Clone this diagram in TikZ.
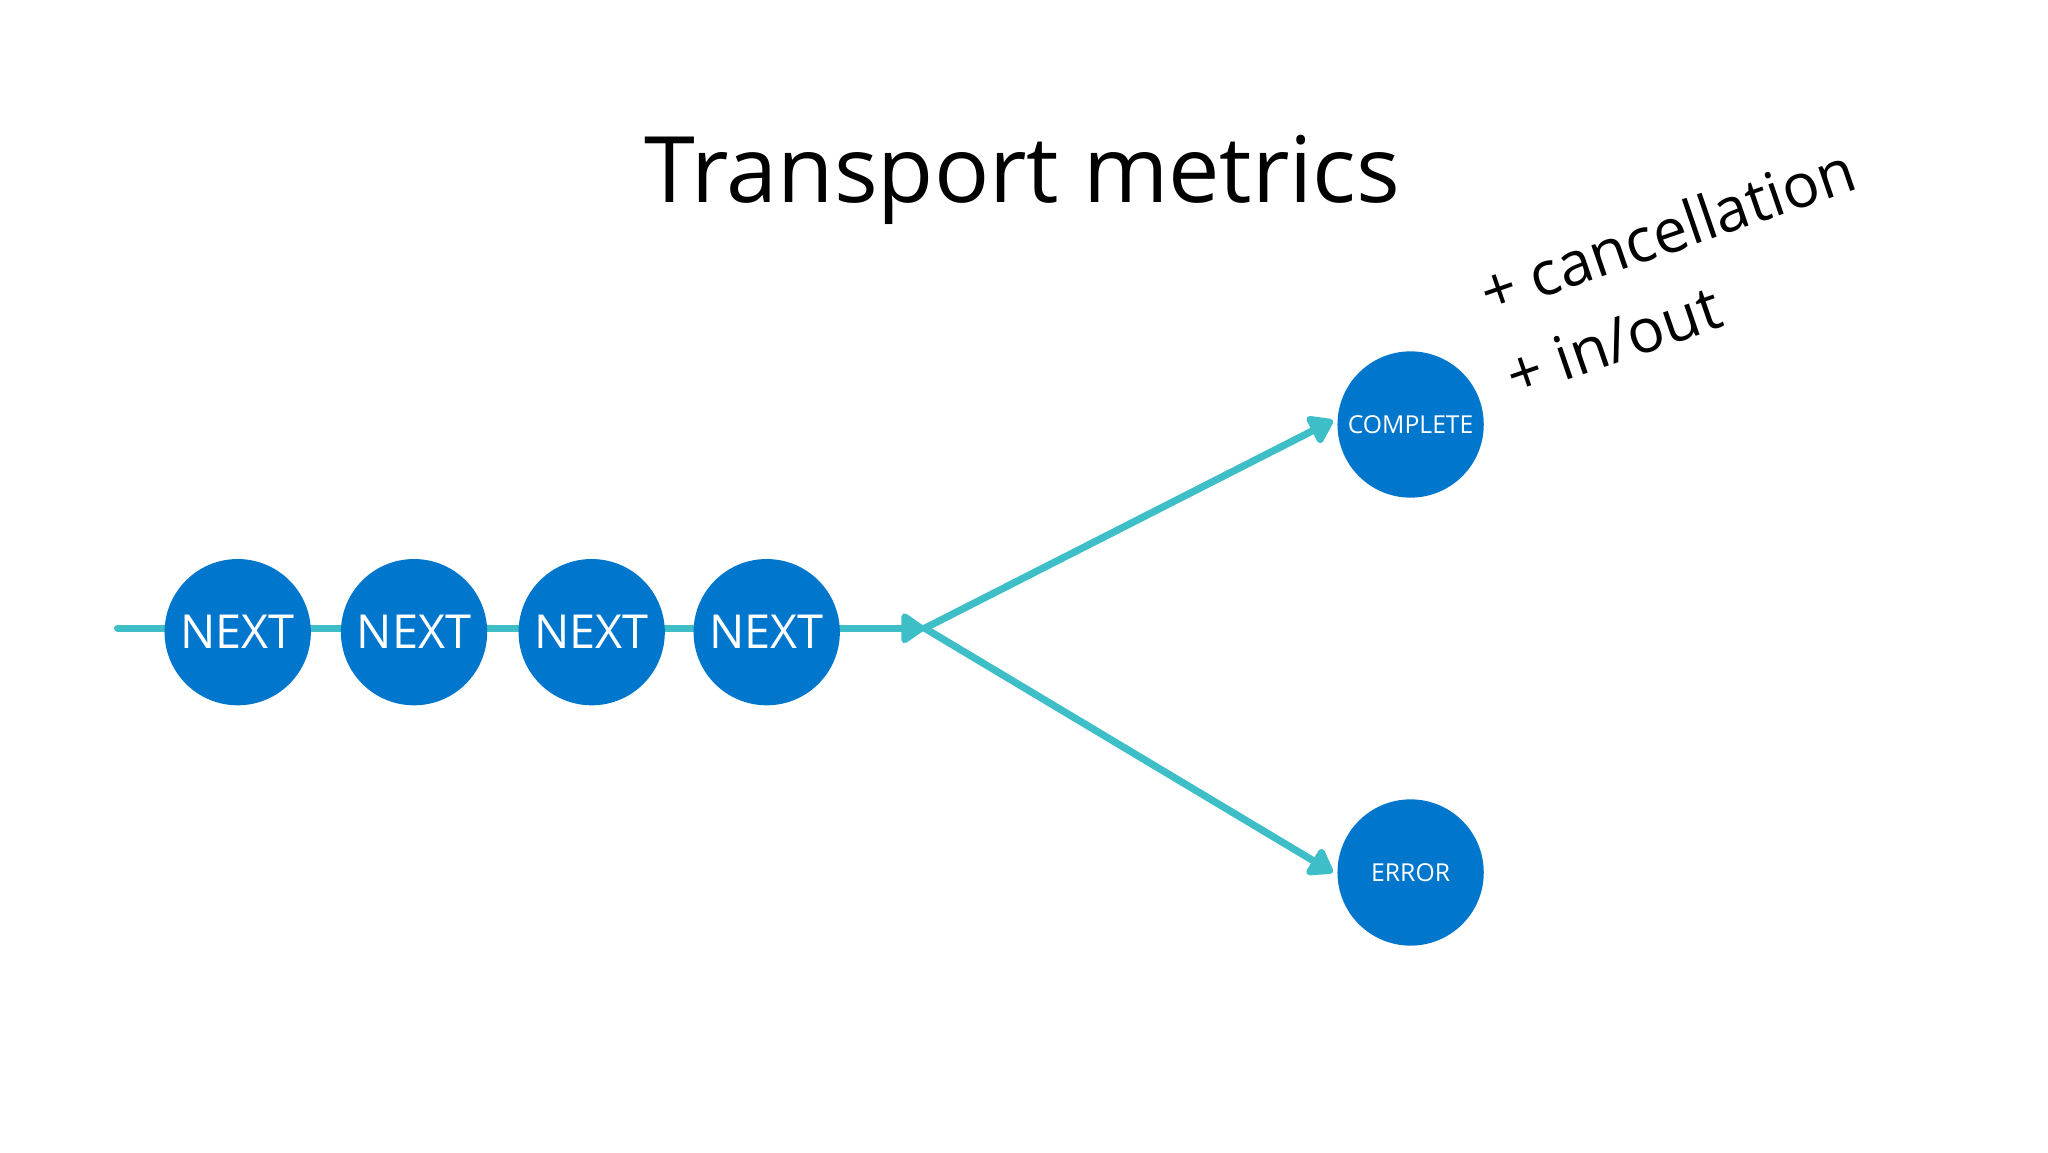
\documentclass[tikz,border=0pt]{standalone}
\usepackage{fontspec}
\setmainfont{Open Sans}
\usetikzlibrary{arrows.meta}
\definecolor{nodeblue}{HTML}{0077CC}
\definecolor{flow}{HTML}{3EBEC6}
\begin{document}
\begin{tikzpicture}[x=1bp,y=-1bp,
  ev/.style={circle,fill=nodeblue,minimum size=112bp,inner sep=0pt,text=white},
  con/.style={draw=flow,line width=5.5bp,line cap=round,-{Triangle[length=20bp,width=26bp,round]}},
  note/.style={font=\fontsize{47}{50}\selectfont,rotate=19,anchor=base west}]
\useasboundingbox (0,0) rectangle (1568,882);
\node[font=\fontsize{70.5}{76}\selectfont,anchor=base] (title) at (783,155) {Transport metrics};
\coordinate (start) at (90,481);
\coordinate (J) at (708,481);
\draw[con] (start) -- (J);
\foreach \x/\n in {182/a,317/b,453/c,587/d}
  \node[ev,font=\fontsize{36}{40}\selectfont] (\n) at (\x,484) {NEXT};
\node[ev,font=\fontsize{19}{22}\selectfont] (complete) at (1080,325) {COMPLETE};
\node[ev,font=\fontsize{19}{22}\selectfont] (error) at (1080,668) {ERROR};
\draw[con,shorten >=4bp] (J) -- (complete.175);
\draw[con,shorten >=4bp] (J) -- (error.182);
\node[note] (n1) at (1137,243) {+ cancellation};
\node[note] (n2) at (1157,306) {+ in/out};
\end{tikzpicture}
\end{document}
